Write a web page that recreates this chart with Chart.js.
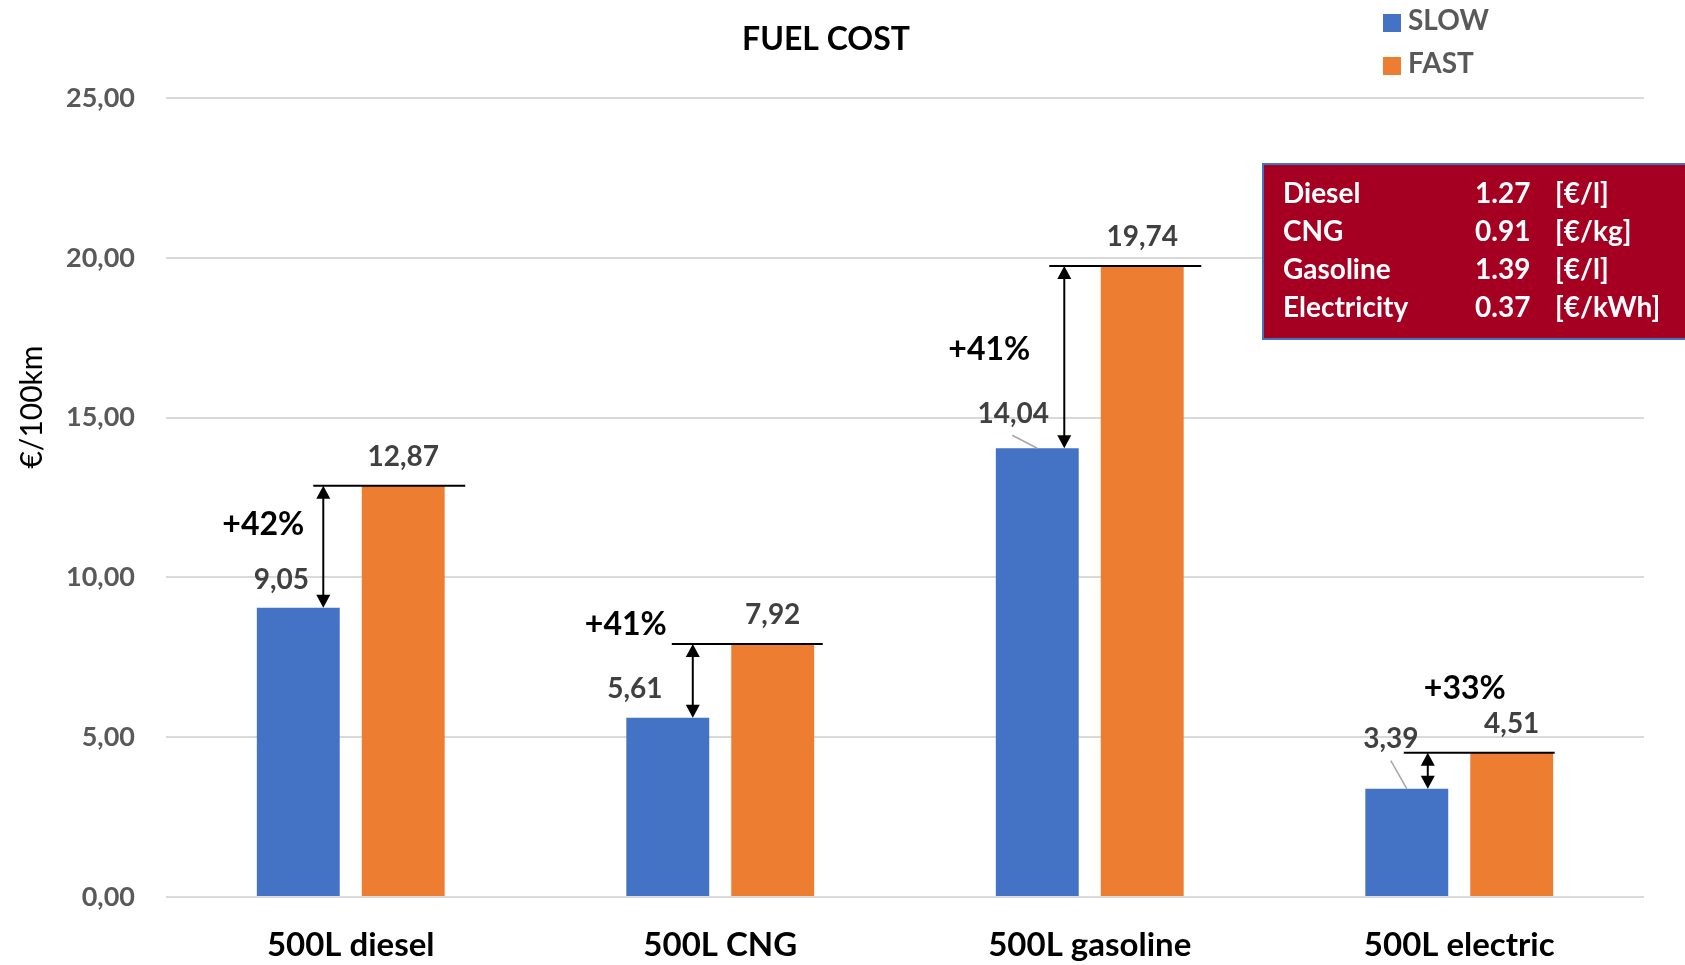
<!DOCTYPE html>
<html>
<head>
<meta charset="utf-8">
<title>Fuel cost</title>
<script src="https://cdn.jsdelivr.net/npm/chart.js@4.4.1/dist/chart.umd.min.js"></script>
<style>
  html, body { margin: 0; padding: 0; background: #ffffff; }
  #wrap { width: 1685px; height: 965px; }
</style>
</head>
<body>
<div id="wrap"><canvas id="c" width="1685" height="965"></canvas></div>
<script>
// ---- data ----
const categories = ['500L diesel', '500L CNG', '500L gasoline', '500L electric'];
const seriesNames = ['SLOW', 'FAST'];
const slowCost = [9.05, 5.61, 14.04, 3.39];
const fastCost = [12.87, 7.92, 19.74, 4.51];
const yTicks = [0, 5, 10, 15, 20, 25];
const fuelNames = ['Diesel', 'CNG', 'Gasoline', 'Electricity'];
const fuelPrices = [1.27, 0.91, 1.39, 0.37];
const fuelUnits = ['[€/l]', '[€/kg]', '[€/l]', '[€/kWh]'];

const FONT = 'Lato, "Open Sans", sans-serif';
const BLUE = '#4472C4';
const ORANGE = '#ED7D31';

const fmt = v => v.toFixed(2).replace('.', ',');
const pctText = i => '+' + Math.round((fastCost[i] / slowCost[i] - 1) * 100) + '%';

// placement of the slow/fast comparison marks, in px relative to the bars
const bracketLayout = {
  lineFrom: [15, 4, 12, -3],     // from slow bar centre
  lineTo:   [62, 50, 59, 43],    // from fast bar centre
  arrowDx:  [25, 25, 27, 21],    // from slow bar centre
  pctDx:    [-35, -42, -48, 58], // from slow bar centre
  pctDy:    [38, -20, 82, -65]   // from fast bar top
};
const slowLabelLayout = {
  dx: [-17, -33, -24, -16],
  dy: [-29, -30, -35, -51],
  leader: [null, null, [-25, -13], [-16, -28]]
};

const overlay = {
  id: 'overlay',
  afterDatasetsDraw(chart) {
    const ctx = chart.ctx;
    const y = chart.scales.y;
    const slowMeta = chart.getDatasetMeta(0);
    const fastMeta = chart.getDatasetMeta(1);
    ctx.save();
    categories.forEach((_, i) => {
      const sx = slowMeta.data[i].x;
      const fx = fastMeta.data[i].x;
      const sTop = y.getPixelForValue(slowCost[i]);
      const fTop = y.getPixelForValue(fastCost[i]);

      // value labels
      ctx.font = 'bold 28px ' + FONT;
      ctx.fillStyle = '#404040';
      ctx.textAlign = 'center';
      ctx.textBaseline = 'alphabetic';
      ctx.fillText(fmt(fastCost[i]), fx, fTop - 20);
      ctx.fillText(fmt(slowCost[i]), sx + slowLabelLayout.dx[i], sTop + slowLabelLayout.dy[i] + 10);

      const ld = slowLabelLayout.leader[i];
      if (ld) {
        ctx.strokeStyle = '#A6A6A6';
        ctx.lineWidth = 1.5;
        ctx.beginPath();
        ctx.moveTo(sx + ld[0], sTop + ld[1]);
        ctx.lineTo(sx, sTop);
        ctx.stroke();
      }

      // horizontal reference line at the fast value
      ctx.strokeStyle = '#000000';
      ctx.lineWidth = 2;
      ctx.beginPath();
      ctx.moveTo(sx + bracketLayout.lineFrom[i], fTop);
      ctx.lineTo(fx + bracketLayout.lineTo[i], fTop);
      ctx.stroke();

      // double-headed arrow between the two values
      const ax = sx + bracketLayout.arrowDx[i];
      const head = 13, half = 7;
      ctx.beginPath();
      ctx.moveTo(ax, fTop + head - 1);
      ctx.lineTo(ax, sTop - head + 1);
      ctx.stroke();
      ctx.fillStyle = '#000000';
      ctx.beginPath();
      ctx.moveTo(ax, fTop);
      ctx.lineTo(ax - half, fTop + head);
      ctx.lineTo(ax + half, fTop + head);
      ctx.closePath();
      ctx.fill();
      ctx.beginPath();
      ctx.moveTo(ax, sTop);
      ctx.lineTo(ax - half, sTop - head);
      ctx.lineTo(ax + half, sTop - head);
      ctx.closePath();
      ctx.fill();

      // percentage increase
      ctx.font = 'bold 32px ' + FONT;
      ctx.fillStyle = '#000000';
      ctx.fillText(pctText(i), sx + bracketLayout.pctDx[i], fTop + bracketLayout.pctDy[i] + 11.5);
    });
    ctx.restore();
  },
  afterDraw(chart) {
    const ctx = chart.ctx;
    ctx.save();

    // title
    ctx.font = 'bold 32px ' + FONT;
    ctx.fillStyle = '#000000';
    ctx.textAlign = 'center';
    ctx.textBaseline = 'alphabetic';
    ctx.fillText('FUEL COST', 826, 50);

    // y axis title
    ctx.save();
    ctx.translate(42, 407);
    ctx.rotate(-Math.PI / 2);
    ctx.font = '30px ' + FONT;
    ctx.fillStyle = '#000000';
    ctx.textAlign = 'center';
    ctx.fillText('€/100km', 0, 0);
    ctx.restore();

    // legend
    const colors = [BLUE, ORANGE];
    ctx.font = 'bold 28px ' + FONT;
    ctx.textAlign = 'left';
    seriesNames.forEach((name, k) => {
      const top = 14 + k * 43;
      ctx.fillStyle = colors[k];
      ctx.fillRect(1383, top, 18, 18);
      ctx.fillStyle = '#595959';
      ctx.fillText(name, 1408, top + 16);
    });

    // fuel price box
    ctx.fillStyle = '#A50021';
    ctx.fillRect(1263, 164, 440, 175);
    ctx.strokeStyle = BLUE;
    ctx.lineWidth = 2;
    ctx.strokeRect(1263, 164, 440, 175);
    ctx.font = 'bold 28px ' + FONT;
    ctx.fillStyle = '#FFFFFF';
    fuelNames.forEach((name, k) => {
      const base = 203 + k * 38;
      ctx.fillText(name, 1283, base);
      ctx.fillText(fuelPrices[k].toFixed(2), 1475, base);
      ctx.fillText(fuelUnits[k], 1555, base);
    });
    ctx.restore();
  }
};

new Chart(document.getElementById('c'), {
  type: 'bar',
  data: {
    labels: categories,
    datasets: [
      { label: seriesNames[0], data: slowCost, backgroundColor: BLUE, borderWidth: 0,
        categoryPercentage: 0.568, barPercentage: 0.79 },
      { label: seriesNames[1], data: fastCost, backgroundColor: ORANGE, borderWidth: 0,
        categoryPercentage: 0.568, barPercentage: 0.79 }
    ]
  },
  options: {
    responsive: false,
    devicePixelRatio: 1,
    animation: false,
    layout: { padding: { top: 98, right: 41, left: 0, bottom: 0 } },
    plugins: {
      legend: { display: false },
      title: { display: false },
      tooltip: { enabled: false }
    },
    scales: {
      x: {
        grid: { display: false },
        border: { display: false },
        ticks: { font: { family: FONT, size: 33, weight: 'bold' }, color: '#000000', padding: 21 },
        afterFit: s => { s.height = 68; }
      },
      y: {
        min: 0,
        max: 25,
        afterBuildTicks: s => { s.ticks = yTicks.map(v => ({ value: v })); },
        grid: { color: '#D9D9D9', lineWidth: 2, drawTicks: false },
        border: { display: false },
        ticks: {
          font: { family: FONT, size: 27, weight: 'bold' },
          color: '#595959',
          padding: 31,
          callback: v => fmt(v)
        },
        afterFit: s => { s.width = 166; }
      }
    }
  },
  plugins: [overlay]
});
</script>
</body>
</html>
